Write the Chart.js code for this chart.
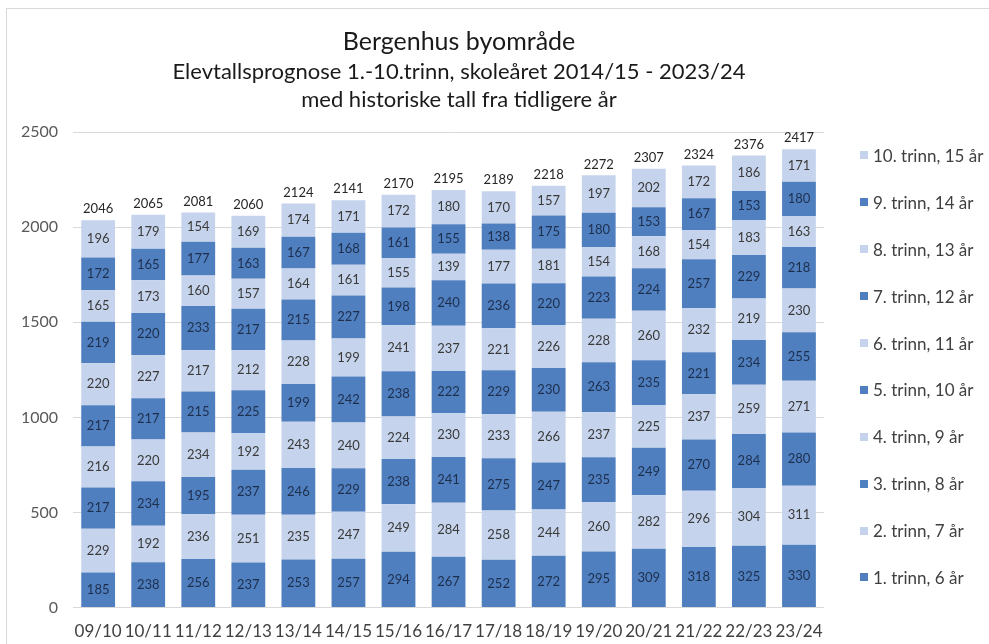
<!DOCTYPE html>
<html>
<head>
<meta charset="utf-8">
<script src="https://cdn.jsdelivr.net/npm/chart.js@4"></script>
<style>
    body { margin: 0; background: #fff; font-family: Lato, sans-serif; }
    #wrap { position: absolute; left: 6px; top: 8px; width: 983px; height: 636px;
            border-left: 1px solid #d9d9d9; border-top: 1px solid #d9d9d9; overflow: hidden; }
    #myChart { position: absolute; left: 0; top: 0; }
    #legend { position: absolute; left: 853px; top: 123px; margin: 0; padding: 0; list-style: none; }
    #legend li { height: 46.9px; display: flex; align-items: center; font-size: 17px; color: #404040; white-space: nowrap; }
    #legend span { display: inline-block; width: 8px; height: 8px; margin-right: 5px; }
</style>
</head>
<body>
<div id="wrap">
    <canvas id="myChart" width="904" height="635" style="width:904px;height:635px"></canvas>
    <ul id="legend"></ul>
</div>
<script>
const years = ['09/10', '10/11', '11/12', '12/13', '13/14', '14/15', '15/16', '16/17',
               '17/18', '18/19', '19/20', '20/21', '21/22', '22/23', '23/24'];

const trinn1  = [185, 238, 256, 237, 253, 257, 294, 267, 252, 272, 295, 309, 318, 325, 330];
const trinn2  = [229, 192, 236, 251, 235, 247, 249, 284, 258, 244, 260, 282, 296, 304, 311];
const trinn3  = [217, 234, 195, 237, 246, 229, 238, 241, 275, 247, 235, 249, 270, 284, 280];
const trinn4  = [216, 220, 234, 192, 243, 240, 224, 230, 233, 266, 237, 225, 237, 259, 271];
const trinn5  = [217, 217, 215, 225, 199, 242, 238, 222, 229, 230, 263, 235, 221, 234, 255];
const trinn6  = [220, 227, 217, 212, 228, 199, 241, 237, 221, 226, 228, 260, 232, 219, 230];
const trinn7  = [219, 220, 233, 217, 215, 227, 198, 240, 236, 220, 223, 224, 257, 229, 218];
const trinn8  = [165, 173, 160, 157, 164, 161, 155, 139, 177, 181, 154, 168, 154, 183, 163];
const trinn9  = [172, 165, 177, 163, 167, 168, 161, 155, 138, 175, 180, 153, 167, 153, 180];
const trinn10 = [196, 179, 154, 169, 174, 171, 172, 180, 170, 157, 197, 202, 172, 186, 171];

// totalene slik de står over søylene
const totals = [2046, 2065, 2081, 2060, 2124, 2141, 2170, 2195, 2189, 2218, 2272, 2307, 2324, 2376, 2417];

const seriesNames = ['1. trinn, 6 år', '2. trinn, 7 år', '3. trinn, 8 år', '4. trinn, 9 år', '5. trinn, 10 år',
                     '6. trinn, 11 år', '7. trinn, 12 år', '8. trinn, 13 år', '9. trinn, 14 år', '10. trinn, 15 år'];
const seriesData = [trinn1, trinn2, trinn3, trinn4, trinn5, trinn6, trinn7, trinn8, trinn9, trinn10];

const titleLines = ['Bergenhus byområde',
                    'Elevtallsprognose 1.-10.trinn, skoleåret 2014/15 - 2023/24',
                    'med historiske tall fra tidligere år'];

const darkBlue = '#4f7fbf';
const lightBlue = '#c5d4ec';

// tittel i tre linjer, sentrert over lerretet
const headings = {
    id: 'headings',
    afterDraw(chart) {
        const ctx = chart.ctx;
        const cx = chart.width / 2;
        ctx.save();
        ctx.textAlign = 'center';
        ctx.textBaseline = 'middle';
        ctx.fillStyle = '#1a1a1a';
        ctx.font = '25px Lato';
        ctx.fillText(titleLines[0], cx, 33);
        ctx.font = '22px Lato';
        ctx.fillText(titleLines[1], cx, 63);
        ctx.fillText(titleLines[2], cx, 91);
        ctx.restore();
    }
};

const valueLabels = {
    id: 'valueLabels',
    afterDatasetsDraw(chart) {
        const ctx = chart.ctx;
        ctx.save();
        ctx.textAlign = 'center';
        ctx.textBaseline = 'middle';
        ctx.font = '13px Lato';
        chart.data.datasets.forEach((ds, i) => {
            ctx.fillStyle = i % 2 === 0 ? '#1e2f4d' : '#3a3a3a';
            chart.getDatasetMeta(i).data.forEach((bar, j) => {
                ctx.fillText(ds.data[j], bar.x, (bar.y + bar.base) / 2);
            });
        });
        ctx.fillStyle = '#262626';
        const topMeta = chart.getDatasetMeta(chart.data.datasets.length - 1);
        topMeta.data.forEach((bar, j) => {
            ctx.fillText(totals[j], bar.x, bar.y - 11);
        });
        ctx.restore();
    }
};

const ctx = document.getElementById('myChart').getContext('2d');
const myChart = new Chart(ctx, {
    type: 'bar',
    data: {
        labels: years,
        datasets: seriesNames.map((name, i) => ({
            label: name,
            data: seriesData[i],
            backgroundColor: i % 2 === 0 ? darkBlue : lightBlue,
            borderWidth: 0,
            categoryPercentage: 1,
            barPercentage: 0.675
        }))
    },
    options: {
        responsive: false,
        animation: false,
        layout: { padding: { left: 12, right: 87, top: 123, bottom: 2 } },
        plugins: {
            legend: { display: false },
            tooltip: { enabled: false }
        },
        scales: {
            x: {
                stacked: true,
                grid: { display: false, drawTicks: true, tickLength: 14 },
                border: { display: false },
                ticks: { color: '#404040', font: { family: 'Lato', size: 17 }, padding: 0,
                         maxRotation: 0, minRotation: 0, autoSkip: false }
            },
            y: {
                stacked: true,
                min: 0,
                max: 2500,
                ticks: { stepSize: 500, color: '#595959', font: { family: 'Lato', size: 16 }, padding: 2,
                         callback: (v) => String(v) },
                grid: { color: '#d9d9d9', drawTicks: true, tickLength: 13, tickColor: 'rgba(0,0,0,0)' },
                border: { display: false }
            }
        }
    },
    plugins: [valueLabels, headings]
});

// egen legende til høyre, 10. trinn øverst
const legendList = document.getElementById('legend');
Chart.defaults.plugins.legend.labels.generateLabels(myChart).reverse().forEach(item => {
    const li = document.createElement('li');
    const box = document.createElement('span');
    box.style.background = item.fillStyle;
    li.appendChild(box);
    li.appendChild(document.createTextNode(item.text));
    legendList.appendChild(li);
});
</script>
</body>
</html>
